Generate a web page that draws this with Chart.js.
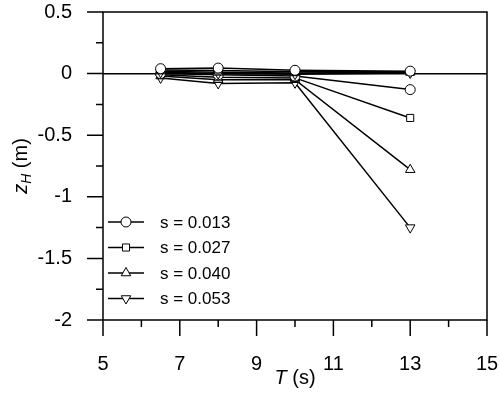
<!DOCTYPE html>
<html>
<head>
<meta charset="utf-8">
<script src="https://cdn.jsdelivr.net/npm/chart.js@4/dist/chart.umd.min.js"></script>
<style>
  html, body { margin: 0; padding: 0; background: #fff; }
  #wrap { width: 500px; height: 399px; }
</style>
</head>
<body>
<div id="wrap"><canvas id="chart" width="500" height="399"></canvas></div>
<script>
// data
const periods = [6.5, 8, 10, 13];
const sLabels = ['s = 0.013', 's = 0.027', 's = 0.040', 's = 0.053'];
const pointStyles = ['circle', 'rect', 'triangle', 'triangle'];
const pointRotations = [0, 0, 0, 180];

// lines that stay near zero
const upper013 = [0.04, 0.045, 0.027, 0.02];
const upper027 = [0.03, 0.025, 0.015, 0.015];
const upper040 = [0.02, 0.01, 0.005, 0.01];
const upper053 = [0.01, 0.0, -0.005, 0.005];

// lines that drop at T = 13
const lower013 = [0.0, -0.01, -0.02, -0.13];
const lower027 = [-0.01, -0.03, -0.035, -0.36];
const lower040 = [-0.02, -0.05, -0.05, -0.78];
const lower053 = [-0.035, -0.08, -0.075, -1.25];

const xMajor = [5, 7, 9, 11, 13, 15];
const yMajor = [0.5, 0, -0.5, -1, -1.5, -2];

const upperSets = [upper013, upper027, upper040, upper053];
const lowerSets = [lower013, lower027, lower040, lower053];

const FONT = 'Arial, "Liberation Sans", sans-serif';

function makeSet(values, i, inLegend) {
    return {
        label: sLabels[i],
        data: periods.map((t, k) => ({ x: t, y: values[k] })),
        borderColor: '#000',
        borderWidth: 1.5,
        backgroundColor: '#fff',
        pointStyle: pointStyles[i],
        rotation: pointRotations[i],
        pointRadius: i >= 2 ? 5.5 : 5,
        pointBorderWidth: 1,
        pointBorderColor: '#000',
        pointBackgroundColor: '#fff',
        showLine: true,
        tension: 0,
        inLegend: inLegend
    };
}

const datasets = [];
upperSets.forEach((v, i) => datasets.push(makeSet(v, i, true)));
lowerSets.forEach((v, i) => datasets.push(makeSet(v, i, false)));

// box, outward ticks, axis titles and legend
const framePlugin = {
    id: 'frame',
    afterDraw(chart) {
        const ctx = chart.ctx;
        const ca = chart.chartArea;
        const xs = chart.scales.x, ys = chart.scales.y;
        ctx.save();
        ctx.strokeStyle = '#000';
        ctx.lineWidth = 1.5;
        ctx.strokeRect(ca.left, ca.top, ca.right - ca.left, ca.bottom - ca.top);

        ctx.beginPath();
        xs.ticks.forEach(t => {
            const px = xs.getPixelForValue(t.value);
            const len = xMajor.includes(t.value) ? 16 : 7;
            ctx.moveTo(px, ca.bottom);
            ctx.lineTo(px, ca.bottom + len);
        });
        ys.ticks.forEach(t => {
            const py = ys.getPixelForValue(t.value);
            const major = yMajor.some(v => Math.abs(v - t.value) < 1e-6);
            ctx.moveTo(ca.left, py);
            ctx.lineTo(ca.left - (major ? 16 : 7), py);
        });
        ctx.stroke();

        // x title: T (s)
        ctx.fillStyle = '#000';
        ctx.textBaseline = 'middle';
        ctx.font = 'italic 20px ' + FONT;
        const wT = ctx.measureText('T').width;
        ctx.font = '20px ' + FONT;
        const wRest = ctx.measureText(' (s)').width;
        let x0 = (ca.left + ca.right) / 2 - (wT + wRest) / 2;
        const yT = ca.bottom + 58;
        ctx.textAlign = 'left';
        ctx.font = 'italic 20px ' + FONT;
        ctx.fillText('T', x0, yT);
        ctx.font = '20px ' + FONT;
        ctx.fillText(' (s)', x0 + wT, yT);

        // y title: z_H (m)
        ctx.save();
        ctx.translate(21, (ca.top + ca.bottom) / 2);
        ctx.rotate(-Math.PI / 2);
        ctx.font = 'italic 20px ' + FONT;
        const wz = ctx.measureText('z').width;
        ctx.font = 'italic 14px ' + FONT;
        const wH = ctx.measureText('H').width;
        ctx.font = '20px ' + FONT;
        const wm = ctx.measureText(' (m)').width;
        let s0 = -(wz + wH + wm) / 2;
        ctx.font = 'italic 20px ' + FONT;
        ctx.fillText('z', s0, 0);
        ctx.font = 'italic 14px ' + FONT;
        ctx.fillText('H', s0 + wz, 6);
        ctx.font = '20px ' + FONT;
        ctx.fillText(' (m)', s0 + wz + wH, 0);
        ctx.restore();

        // legend in lower left of the plot
        const legendSets = chart.data.datasets.filter(d => d.inLegend);
        ctx.font = '17px ' + FONT;
        legendSets.forEach((d, i) => {
            const ly = ca.bottom - 98 + i * 25.5;
            ctx.beginPath();
            ctx.lineWidth = 1.5;
            ctx.moveTo(ca.left + 5, ly);
            ctx.lineTo(ca.left + 41, ly);
            ctx.stroke();
            ctx.lineWidth = 1;
            ctx.fillStyle = '#fff';
            Chart.helpers.drawPoint(ctx, {
                pointStyle: d.pointStyle,
                rotation: d.rotation,
                radius: d.pointRadius,
                borderWidth: 1
            }, ca.left + 23, ly);
            ctx.fillStyle = '#000';
            ctx.fillText(d.label, ca.left + 57, ly + 1);
        });
        ctx.restore();
    }
};

new Chart(document.getElementById('chart'), {
    type: 'scatter',
    data: { datasets: datasets },
    options: {
        responsive: false,
        animation: false,
        layout: { padding: { left: 0, right: 13, top: 12, bottom: 0 } },
        plugins: {
            legend: { display: false },
            tooltip: { enabled: false }
        },
        scales: {
            x: {
                type: 'linear',
                min: 5,
                max: 15,
                afterFit: s => { s.height = 79; s.paddingLeft = 0; s.paddingRight = 0; },
                border: { display: false },
                grid: { display: false, drawTicks: false },
                ticks: {
                    stepSize: 1,
                    padding: 32,
                    color: '#000',
                    font: { family: FONT, size: 20 },
                    maxRotation: 0,
                    autoSkip: false,
                    callback: v => xMajor.includes(v) ? String(v) : ''
                }
            },
            y: {
                type: 'linear',
                min: -2,
                max: 0.5,
                afterFit: s => { s.width = 103; s.paddingTop = 0; s.paddingBottom = 0; },
                border: { display: false },
                grid: {
                    drawTicks: false,
                    lineWidth: 1.5,
                    color: c => (c.tick && Math.abs(c.tick.value) < 1e-6) ? '#000' : 'rgba(0,0,0,0)'
                },
                ticks: {
                    stepSize: 0.25,
                    padding: 31,
                    color: '#000',
                    font: { family: FONT, size: 20 },
                    autoSkip: false,
                    callback: v => yMajor.some(m => Math.abs(m - v) < 1e-6) ? String(Number(v.toFixed(2))) : ''
                }
            }
        }
    },
    plugins: [framePlugin]
});
</script>
</body>
</html>
